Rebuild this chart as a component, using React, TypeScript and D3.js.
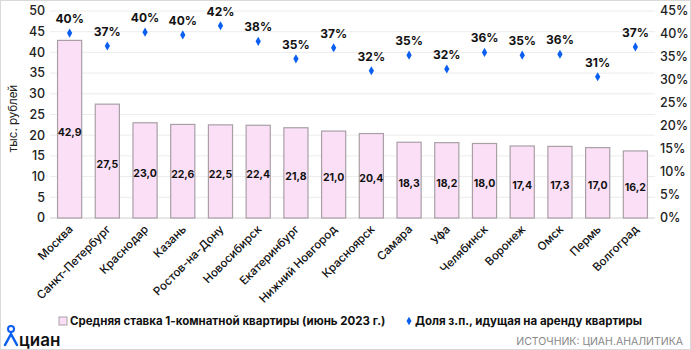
import * as d3 from 'd3';

const cities = ['Москва', 'Санкт-Петербург', 'Краснодар', 'Казань', 'Ростов-на-Дону', 'Новосибирск', 'Екатеринбург', 'Нижний Новгород', 'Красноярск', 'Самара', 'Уфа', 'Челябинск', 'Воронеж', 'Омск', 'Пермь', 'Волгоград'];
const rent = [42.9, 27.5, 23.0, 22.6, 22.5, 22.4, 21.8, 21.0, 20.4, 18.3, 18.2, 18.0, 17.4, 17.3, 17.0, 16.2];
const share = [40.2, 37.4, 40.4, 39.8, 41.8, 38.4, 34.6, 37.0, 32.0, 35.4, 32.4, 36.0, 35.4, 35.6, 30.7, 37.2];
const leftTicks = [0, 5, 10, 15, 20, 25, 30, 35, 40, 45, 50];
const rightTicks = [0, 5, 10, 15, 20, 25, 30, 35, 40, 45];

const W = 691;
const H = 350;
const margin = { top: 11, right: 36, bottom: 132, left: 50 };
const FONT = 'Inter, "DejaVu Sans", sans-serif';

export default function App() {
  const innerW = W - margin.left - margin.right;
  const y0 = margin.top;
  const y1 = H - margin.bottom;

  const x = d3.scaleBand<string>().domain(cities).range([margin.left, margin.left + innerW])
    .paddingInner(0.36).paddingOuter(0.2);
  const yL = d3.scaleLinear().domain([0, 50]).range([y1, y0]);
  const yR = d3.scaleLinear().domain([0, 45]).range([y1, y0]);
  const fmt = (v: number) => v.toFixed(1).replace('.', ',');

  return (
    <svg width={W} height={H} style={{ position: 'absolute', left: 0, top: 0, background: '#fff' }} fontFamily={FONT}>
      <rect x={0.5} y={0.5} width={W - 1} height={H - 1} fill="none" stroke="#d9d9d9" />
      {leftTicks.map(t => (
        <g key={t}>
          {t > 0 && <line x1={margin.left} x2={margin.left + innerW} y1={yL(t)} y2={yL(t)} stroke="#ececec" />}
          <text x={45} y={yL(t)} dy="0.35em" textAnchor="end" fontSize={12.5} fontWeight={500} fill="#222">{t}</text>
        </g>
      ))}
      {rightTicks.map(t => (
        <text key={t} x={660} y={yR(t)} dy="0.35em" fontSize={12.5} fontWeight={500} fill="#222">{t}%</text>
      ))}
      <line x1={margin.left} x2={margin.left + innerW} y1={y1} y2={y1} stroke="#d0d0d0" />
      <text transform={`translate(17,${(y0 + y1) / 2 + 4}) rotate(-90)`} textAnchor="middle" fontSize={11.5} fill="#222">тыс. рублей</text>

      {cities.map((c, i) => {
        const bx = x(c) as number;
        const cx = bx + x.bandwidth() / 2;
        return (
          <g key={c}>
            <rect x={bx} y={yL(rent[i])} width={x.bandwidth()} height={y1 - yL(rent[i])} fill="#fbdff6" stroke="#a8a0a6" strokeWidth={1.2} />
            <text x={cx} y={(yL(rent[i]) + y1) / 2 + 3} dy="0.35em" textAnchor="middle" fontSize={10.5} fontWeight={700} fill="#111">{fmt(rent[i])}</text>
            <path d={d3.symbol(d3.symbolDiamond, 24)() as string} transform={`translate(${cx},${yR(share[i])})`} fill="#0a5ef0" />
            <text x={cx} y={yR(share[i]) - 10} textAnchor="middle" fontSize={12} fontWeight={700} fill="#111">{Math.round(share[i])}%</text>
            <text transform={`translate(${cx + 4},${y1 + 12}) rotate(-45)`} textAnchor="end" fontSize={11.5} fontWeight={500} fill="#111">{c}</text>
          </g>
        );
      })}

      <rect x={59} y={317} width={8} height={8} fill="#fbdff6" stroke="#a8a0a6" />
      <text x={70} y={325} fontSize={11.5} fontWeight={700} fill="#111">Средняя ставка 1-комнатной квартиры (июнь 2023 г.)</text>
      <path d={d3.symbol(d3.symbolDiamond, 22)() as string} transform="translate(409,321)" fill="#0a5ef0" />
      <text x={415} y={325} fontSize={11.5} fontWeight={700} fill="#111">Доля з.п., идущая на аренду квартиры</text>

      <circle cx={11} cy={329} r={3} fill="none" stroke="#0a5ef0" strokeWidth={2} />
      <path d="M5,345 L11,334 L17,345" fill="none" stroke="#0a5ef0" strokeWidth={2.5} strokeLinecap="round" />
      <text x={19} y={346} fontSize={17} fontWeight={600} fill="#111">циан</text>
      <text x={683} y={345} textAnchor="end" fontSize={10.5} fill="#888">ИСТОЧНИК: ЦИАН.АНАЛИТИКА</text>
    </svg>
  );
}
